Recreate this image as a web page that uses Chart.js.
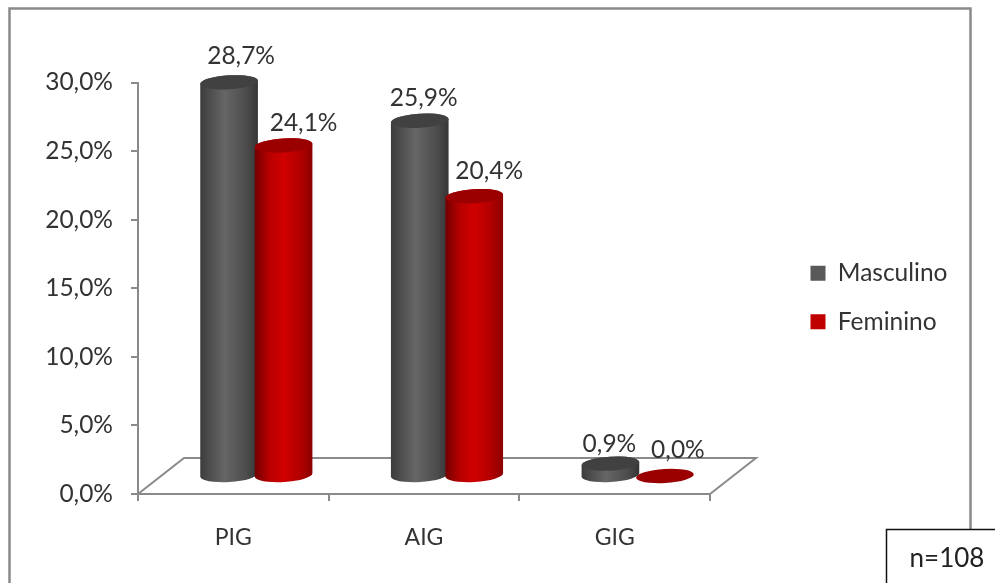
<!DOCTYPE html>
<html><head><meta charset="utf-8">
<style>html,body{margin:0;padding:0;background:#fff}canvas{display:block;filter:blur(0.4px)}</style>
<script src="https://cdn.jsdelivr.net/npm/chart.js@4"></script>
</head><body><canvas id="c" width="995" height="583"></canvas>
<script>
const categories = ['PIG','AIG','GIG'];
const masculino = [28.7,25.9,0.9];
const feminino = [24.1,20.4,0.0];
const yTicks = [0,5,10,15,20,25,30];
const note = 'n=108';
const FONT = 'Lato, Carlito, sans-serif';
const TEXT = '#333333', AXIS = '#8a8a8a';
const fmt = v => v.toFixed(1).replace('.',',') + '%';
// 3D depth of the floor
const DEPTH_X = 46, DEPTH_Y = 36;
// Manual data-label nudges [dx, dy] relative to the cylinder's top centre
const labelNudge = [
  [[12,-26],[4,-23],[-1,-20]],
  [[20,-22],[15,-25],[13,-26]]
];
const looks = [
  {stops:[[0,'#3c3c3c'],[0.42,'#666666'],[0.8,'#4c4c4c'],[1,'#353535']], top:'#414141'},
  {stops:[[0,'#720000'],[0.25,'#b80000'],[0.5,'#d00000'],[0.8,'#b00000'],[1,'#8a0000']], top:'#9a0000'}
];
const ROT = -0.06, RY = 7, RX_SCALE = 1.06;

const scene = {
  id:'scene',
  beforeDraw(chart){
    const c = chart.ctx;
    c.save();
    c.strokeStyle = AXIS; c.lineWidth = 2.5;
    c.strokeRect(9.5,8.5,961,600);
    c.restore();
  },
  beforeDatasetsDraw(chart){
    const c = chart.ctx, x = chart.scales.x, y = chart.scales.y, y0 = y.getPixelForValue(0);
    c.save();
    c.strokeStyle = AXIS; c.lineWidth = 2;
    c.beginPath();
    c.moveTo(x.left,y0);
    c.lineTo(x.left+DEPTH_X,y0-DEPTH_Y);
    c.lineTo(x.right+DEPTH_X,y0-DEPTH_Y);
    c.lineTo(x.right,y0);
    c.stroke();
    c.restore();
  },
  beforeDatasetDraw(){ return false; },
  afterDatasetsDraw(chart){
    const c = chart.ctx, dx = DEPTH_X/2, dy = DEPTH_Y/2;
    chart.data.datasets.forEach((ds,i)=>{
      const meta = chart.getDatasetMeta(i), look = looks[i];
      meta.data.forEach((bar,j)=>{
        const cx = bar.x+dx, top = bar.y-dy, base = bar.base-dy, rx = bar.width/2*RX_SCALE;
        c.save();
        if (base-top > 0.5){
          const g = c.createLinearGradient(cx-rx,0,cx+rx,0);
          look.stops.forEach(s=>g.addColorStop(s[0],s[1]));
          c.fillStyle = g;
          c.beginPath();
          c.ellipse(cx,base,rx,RY,ROT,0,Math.PI,false);
          c.ellipse(cx,top,rx,RY,ROT,Math.PI,Math.PI*2,false);
          c.closePath();
          c.fill();
        }
        c.fillStyle = look.top;
        c.beginPath();
        c.ellipse(cx,top,rx,RY,ROT,0,Math.PI*2);
        c.fill();
        c.restore();
      });
    });
    chart.data.datasets.forEach((ds,i)=>{
      chart.getDatasetMeta(i).data.forEach((bar,j)=>{
        const n = labelNudge[i][j];
        c.save();
        c.font = '24.5px '+FONT; c.fillStyle = TEXT; c.textAlign='center'; c.textBaseline='middle';
        c.fillText(fmt(ds.data[j]), bar.x+dx+n[0], bar.y-dy+n[1]);
        c.restore();
      });
    });
  },
  afterLayout(chart){
    const l = chart.legend;
    l.left = 786.5; l.right = 990; l.top = 237; l.bottom = 560;
  },
  afterDraw(chart){
    const c = chart.ctx;
    c.save();
    c.fillStyle='#fff'; c.strokeStyle='#111'; c.lineWidth=1.5;
    c.fillRect(886,529,120,70); c.strokeRect(886.5,529.5,120,70);
    c.fillStyle='#222'; c.font='26px '+FONT; c.textAlign='center'; c.textBaseline='middle';
    c.fillText(note,947,559);
    c.restore();
  }
};

new Chart(document.getElementById('c'),{
  type:'bar',
  plugins:[scene],
  data:{labels:categories,datasets:[
    {label:'Masculino',data:masculino,backgroundColor:'#595959',borderWidth:0},
    {label:'Feminino',data:feminino,backgroundColor:'#C00000',borderWidth:0}
  ]},
  options:{
    responsive:false,animation:false,
    layout:{padding:{left:0,top:82.5,right:285,bottom:0}},
    categoryPercentage:0.5716,barPercentage:1,
    scales:{
      x:{
        afterFit(s){s.height=89;},
        grid:{display:true,drawOnChartArea:false,drawTicks:true,tickLength:7,color:AXIS,lineWidth:2},
        border:{display:true,color:AXIS,width:2},
        ticks:{color:TEXT,font:{family:FONT,size:23},padding:23,maxRotation:0}
      },
      y:{
        min:0,max:30,
        afterFit(s){s.width=138;},
        afterBuildTicks(s){s.ticks=yTicks.map(v=>({value:v}));},
        grid:{display:true,drawOnChartArea:false,drawTicks:true,tickLength:7,color:AXIS,lineWidth:2},
        border:{display:true,color:AXIS,width:2},
        ticks:{color:TEXT,font:{family:FONT,size:24.5},padding:18,callback:v=>fmt(v)}
      }
    },
    plugins:{
      title:{display:false},tooltip:{enabled:false},
      legend:{position:'chartArea',align:'start',
        labels:{color:TEXT,font:{family:FONT,size:24.5},boxWidth:15,boxHeight:15,padding:24}}
    }
  }
});
</script></body></html>
